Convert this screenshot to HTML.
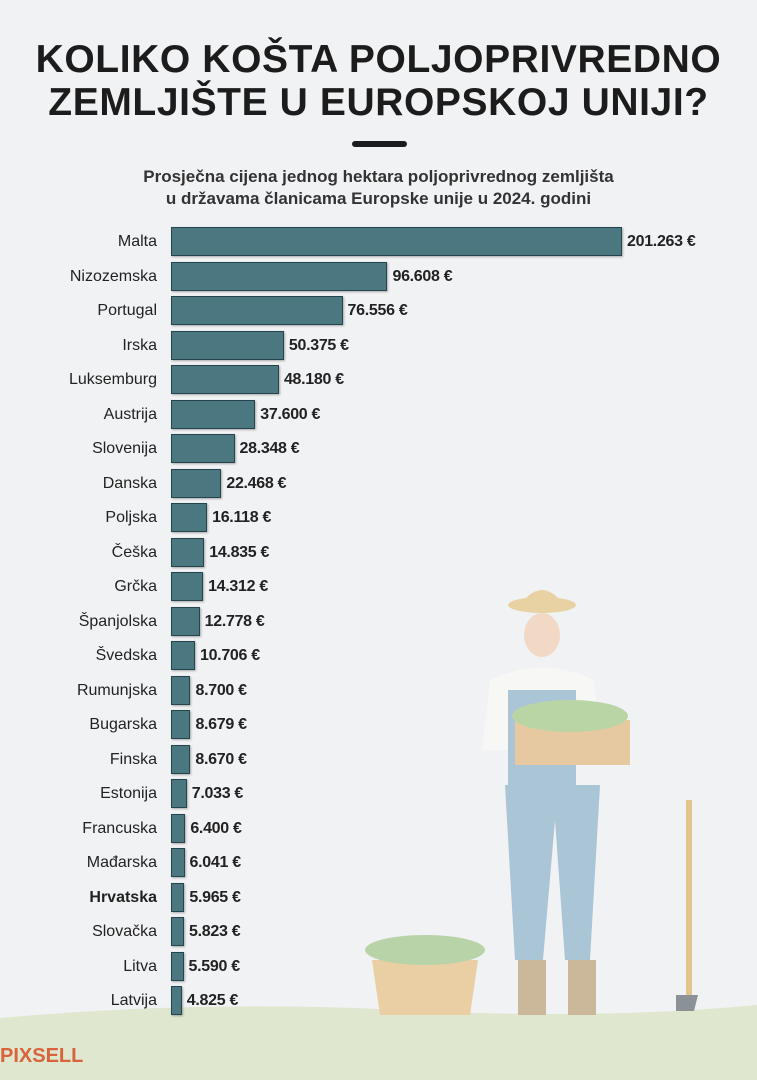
<!DOCTYPE html>
<html><head><meta charset="utf-8"><style>
body{margin:0;width:757px;height:1080px;background:#f1f2f4;font-family:"Liberation Sans",sans-serif;position:relative;overflow:hidden}
.t{position:absolute;left:0;width:757px;text-align:center;font-weight:bold;color:#1c1c1c}
.bar{position:absolute;left:171px;height:29px;background:#4a7780;border:1px solid #24454c;box-sizing:border-box;box-shadow:1px 1px 2px rgba(0,0,0,.3)}
.lab{position:absolute;right:600px;font-size:16px;color:#222;line-height:29px;text-align:right}
.val{position:absolute;font-size:16px;color:#222;line-height:29px;font-weight:bold;letter-spacing:-0.3px}
</style></head><body>
<div class="t" style="top:38px;font-size:39px;line-height:43px;letter-spacing:0.6px">KOLIKO KOŠTA POLJOPRIVREDNO<br>ZEMLJIŠTE U EUROPSKOJ UNIJI?</div>
<div style="position:absolute;left:352px;top:141px;width:55px;height:6px;background:#1c1c1c;border-radius:3px"></div>
<div class="t" style="top:166px;font-size:17px;line-height:22px;color:#333">Prosječna cijena jednog hektara poljoprivrednog zemljišta<br>u državama članicama Europske unije u 2024. godini</div>
<svg style="position:absolute;left:0;top:0" width="757" height="1080">
<path d="M0 1018 Q200 1000 400 1010 T757 1005 V1080 H0Z" fill="#dfe7cf"/>
<path d="M372 960 h106 l-8 55 h-90z" fill="#e9cfa3"/>
<ellipse cx="425" cy="950" rx="60" ry="15" fill="#b8d3a8"/>
<ellipse cx="542" cy="605" rx="34" ry="8" fill="#e8d2a4"/><path d="M520 605 q22-30 44 0z" fill="#e8d2a4"/>
<ellipse cx="542" cy="635" rx="18" ry="22" fill="#f1d9c5"/>
<path d="M490 680 q52-25 104 0 l8 70 h-120z" fill="#f7f7f5"/>
<rect x="508" y="690" width="68" height="100" fill="#a9c5d6"/>
<path d="M505 785 h95 l-10 175 h-25 l-10-140 l-12 140 h-28z" fill="#a9c5d6"/>
<rect x="518" y="960" width="28" height="55" fill="#cbb79a"/><rect x="568" y="960" width="28" height="55" fill="#cbb79a"/>
<rect x="515" y="720" width="115" height="45" fill="#e6c9a0"/>
<ellipse cx="570" cy="716" rx="58" ry="16" fill="#b9d5a6"/>
<rect x="686" y="800" width="6" height="200" fill="#e3c48b"/><path d="M676 995 h22 l-4 16 h-18z" fill="#8b9196"/>
</svg>
<div id="c"></div>
<div style="position:absolute;left:0;top:1045px;font-size:20px;font-weight:bold;color:#d9633a">PIXSELL</div>
<script>
var d=[["Malta",201263,"201.263"],["Nizozemska",96608,"96.608"],["Portugal",76556,"76.556"],["Irska",50375,"50.375"],["Luksemburg",48180,"48.180"],["Austrija",37600,"37.600"],["Slovenija",28348,"28.348"],["Danska",22468,"22.468"],["Poljska",16118,"16.118"],["Češka",14835,"14.835"],["Grčka",14312,"14.312"],["Španjolska",12778,"12.778"],["Švedska",10706,"10.706"],["Rumunjska",8700,"8.700"],["Bugarska",8679,"8.679"],["Finska",8670,"8.670"],["Estonija",7033,"7.033"],["Francuska",6400,"6.400"],["Mađarska",6041,"6.041"],["Hrvatska",5965,"5.965"],["Slovačka",5823,"5.823"],["Litva",5590,"5.590"],["Latvija",4825,"4.825"]];
var h="";d.forEach(function(r,i){var y=227+i*34.5,w=r[1]*451/201263;
h+='<div class="lab" style="top:'+y+'px;'+(r[0]=="Hrvatska"?'font-weight:bold':'')+'">'+r[0]+'</div>';
h+='<div class="bar" style="top:'+y+'px;width:'+w+'px"></div>';
h+='<div class="val" style="top:'+y+'px;left:'+(171+w+5)+'px">'+r[2]+' €</div>';});
document.getElementById("c").innerHTML=h;
</script>
</body></html>
